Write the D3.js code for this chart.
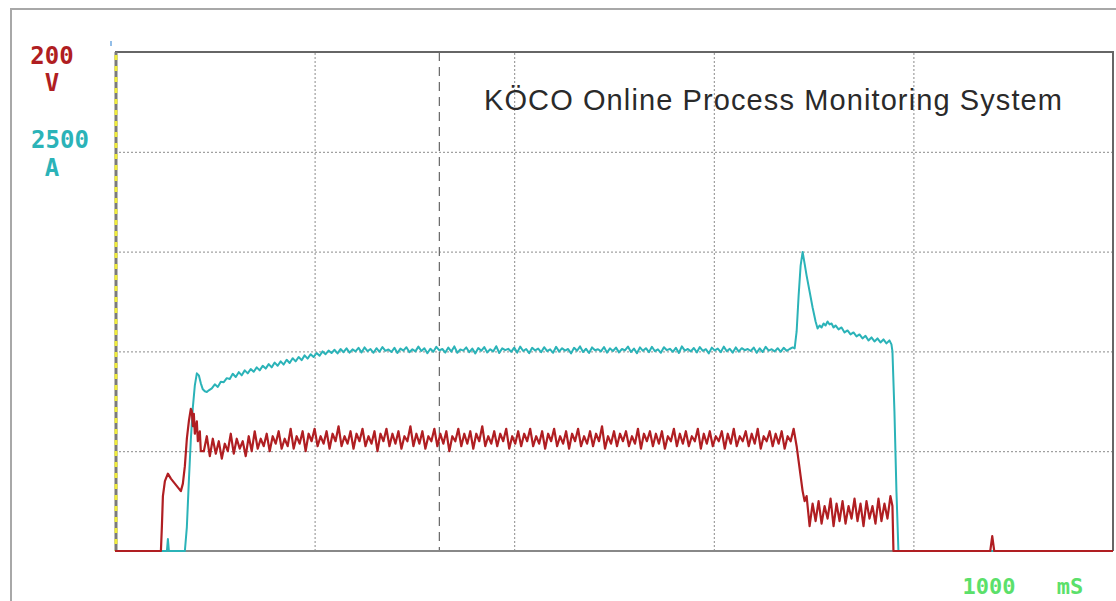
<!DOCTYPE html>
<html>
<head>
<meta charset="utf-8">
<script src="https://cdn.jsdelivr.net/npm/d3@7"></script>
<style>
  html, body { margin: 0; padding: 0; background: #fff; }
  svg { display: block; }
  .lbl { font-family: "DejaVu Sans Mono", monospace; font-weight: bold; }
</style>
</head>
<body>
<svg id="chart" width="1116" height="601"></svg>
<script>
// scope sample data, time in ms
const timeRange = [0, 1000];
const voltRange = [0, 200];
const ampRange = [0, 2500];
const gridTimes = [200, 400, 600, 800];
const gridVolts = [40, 80, 120, 160];
const markerMs = 325;

const SAMPLE_MS = 3;

// voltage (red) trace
const voltStart = [[0, 0], [46, 0], [47, 10], [48, 22], [50, 28], [53, 31], [56, 29], [60, 27],
  [64, 25], [66, 24], [68, 27], [70, 34], [72, 45], [74, 52], [76, 57], [77, 56], [78, 50],
  [79, 55], [80, 47], [82, 52], [83, 44], [85, 48], [86, 40]];
const voltSteadyStartMs = 89;
const voltSteady = [
  40, 46, 38, 45, 39, 44, 37, 43, 40, 47,
  39, 45, 41, 44, 38, 46, 40, 48, 41, 45,
  42, 47, 40, 46, 43, 48, 41, 45, 42, 49,
  41, 46, 43, 48, 40, 47, 44, 49, 42, 46,
  43, 48, 41, 47, 44, 50, 42, 46, 43, 48,
  41, 47, 44, 49, 42, 46, 43, 48, 40, 47,
  44, 49, 42, 47, 43, 48, 41, 46, 44, 50,
  42, 47, 43, 48, 41, 46, 44, 49, 42, 47,
  43, 48, 40, 46, 44, 49, 42, 47, 43, 48,
  41, 47, 44, 50, 42, 46, 43, 48, 42, 47,
  44, 49, 41, 46, 43, 48, 42, 47, 44, 49,
  42, 46, 43, 48, 41, 47, 44, 49, 42, 46,
  43, 48, 41, 47, 44, 49, 42, 46, 43, 48,
  42, 47, 44, 50, 41, 46, 43, 48, 42, 47,
  44, 48, 42, 46, 43, 49, 41, 47, 44, 48,
  42, 47, 43, 48, 41, 46, 44, 49, 42, 47,
  43, 48, 42, 46, 44, 49, 41, 47, 43, 48,
  42, 46, 44, 48, 41, 47, 43, 49, 42, 46,
  44, 48, 42, 47, 43, 49, 41, 46, 44, 48,
  42, 47, 43, 48, 41, 46, 44, 49];
const voltDrop = [[683, 42], [685, 36], [687, 30], [689, 24], [691, 20]];
const voltLowStartMs = 693;
const voltLow = [22, 10, 19, 12, 20, 11, 18, 13, 21, 10,
  19, 12, 20, 11, 18, 13, 21, 12, 19, 10,
  20, 13, 18, 11, 21, 12, 19, 13, 22];
const voltEnd = [[779, 18], [780, 0], [877, 0], [879, 6], [881, 0], [1000, 0]];

// current (cyan) trace
const ampStart = [[0, 0], [52, 0], [53, 60], [54, 0], [70, 0], [72, 120], [74, 350], [76, 560],
  [78, 720], [80, 830], [82, 890], [84, 880], [86, 840], [88, 810], [90, 800], [92, 797], [94, 805]];
const ampSteadyStartMs = 97;
const ampSteady = [
  815, 835, 822, 848, 846, 866, 862, 888, 872, 896,
  880, 905, 890, 912, 898, 920, 905, 928, 914, 936,
  920, 944, 928, 950, 934, 958, 942, 966, 950, 972,
  956, 980, 964, 986, 972, 992, 978, 1000, 986, 1004,
  992, 1008, 990, 1012, 996, 1015, 994, 1010, 1000, 1018,
  995, 1020, 1001, 1012, 993, 1016, 998, 1022, 1003, 1010,
  997, 1018, 992, 1014, 1004, 1021, 996, 1011, 1000, 1024,
  1002, 1016, 991, 1013, 998, 1023, 1005, 1012, 994, 1019,
  999, 1025, 993, 1010, 1004, 1020, 996, 1014, 990, 1017,
  1003, 1022, 995, 1011, 1000, 1026, 992, 1015, 1006, 1013,
  998, 1019, 994, 1024, 1002, 1012, 991, 1018, 1005, 1014,
  996, 1021, 1001, 1010, 993, 1023, 999, 1016, 1004, 1012,
  990, 1018, 1003, 1025, 997, 1013, 992, 1020, 1006, 1011,
  1000, 1022, 994, 1015, 1002, 1019, 995, 1012, 1005, 1024,
  997, 1014, 991, 1020, 1003, 1016, 996, 1023, 1001, 1010,
  993, 1021, 1006, 1013, 998, 1018, 992, 1025, 1004, 1012,
  1000, 1017, 995, 1022, 1003, 1011, 990, 1019, 1005, 1014,
  996, 1024, 1001, 1013, 994, 1020, 999, 1016, 1006, 1012,
  1002, 1019, 993, 1015, 997, 1023, 1004, 1011, 1000, 1016,
  998, 1018, 1003, 1012, 1020];
const ampEnd = [[681, 1015], [683, 1100], [685, 1280], [687, 1430], [689, 1498], [691, 1440],
  [693, 1380], [696, 1300], [699, 1220], [702, 1150], [704, 1115], [706, 1130], [708, 1120],
  [710, 1140], [712, 1130], [714, 1150], [716, 1135], [718, 1140], [720, 1120], [722, 1130],
  [725, 1110], [728, 1120], [731, 1095], [734, 1105], [737, 1085], [740, 1095], [743, 1075],
  [746, 1085], [749, 1065], [752, 1078], [755, 1055], [758, 1070], [761, 1050], [764, 1065],
  [767, 1045], [770, 1060], [773, 1040], [776, 1055], [778, 1035], [779, 1000], [781, 700],
  [783, 300], [785, 0], [1000, 0]];

function sampled(startMs, values) {
  return values.map((v, i) => [startMs + i * SAMPLE_MS, v]);
}

const voltage = [].concat(voltStart, sampled(voltSteadyStartMs, voltSteady), voltDrop,
  sampled(voltLowStartMs, voltLow), voltEnd);
const current = [].concat(ampStart, sampled(ampSteadyStartMs, ampSteady), ampEnd);

const plot = { left: 115, right: 1113, top: 52, bottom: 551 };

const svg = d3.select('#chart');

const x = d3.scaleLinear().domain(timeRange).range([plot.left, plot.right]);
const yV = d3.scaleLinear().domain(voltRange).range([plot.bottom, plot.top]);
const yA = d3.scaleLinear().domain(ampRange).range([plot.bottom, plot.top]);

// outer frame
svg.append('rect')
  .attr('x', 11).attr('y', 9)
  .attr('width', 1120).attr('height', 600)
  .attr('fill', 'none')
  .attr('stroke', '#a8a8a8')
  .attr('stroke-width', 2);

// grid
svg.append('g')
  .attr('transform', `translate(0,${plot.bottom})`)
  .call(d3.axisBottom(x).tickValues(gridTimes).tickSize(-(plot.bottom - plot.top)).tickFormat(''))
  .call(g => g.select('.domain').remove())
  .call(g => g.selectAll('.tick line')
    .attr('stroke', '#8a8a8a')
    .attr('stroke-dasharray', '2,2'));

svg.append('g')
  .attr('transform', `translate(${plot.left},0)`)
  .call(d3.axisLeft(yV).tickValues(gridVolts).tickSize(-(plot.right - plot.left)).tickFormat(''))
  .call(g => g.select('.domain').remove())
  .call(g => g.selectAll('.tick line')
    .attr('stroke', '#8a8a8a')
    .attr('stroke-dasharray', '2,2'));

// trigger marker
svg.append('line')
  .attr('x1', x(markerMs)).attr('x2', x(markerMs))
  .attr('y1', plot.top).attr('y2', plot.bottom)
  .attr('stroke', '#666')
  .attr('stroke-width', 1.2)
  .attr('stroke-dasharray', '9,6');

// plot frame
svg.append('path')
  .attr('d', `M${plot.left},${plot.top}H${plot.right}V${plot.bottom}`)
  .attr('fill', 'none')
  .attr('stroke', '#666')
  .attr('stroke-width', 2);

svg.append('line')
  .attr('x1', plot.left).attr('x2', plot.right)
  .attr('y1', plot.bottom).attr('y2', plot.bottom)
  .attr('stroke', '#888')
  .attr('stroke-width', 2);

// left axis: yellow / grey dashes
svg.append('line')
  .attr('x1', plot.left + 1).attr('x2', plot.left + 1)
  .attr('y1', plot.top).attr('y2', plot.bottom)
  .attr('stroke', '#7a7a7a')
  .attr('stroke-width', 3);
svg.append('line')
  .attr('x1', plot.left + 1).attr('x2', plot.left + 1)
  .attr('y1', plot.top + 3).attr('y2', plot.bottom)
  .attr('stroke', '#f0ec3c')
  .attr('stroke-width', 3)
  .attr('stroke-dasharray', '5,6');

svg.append('line')
  .attr('x1', 111).attr('x2', 111)
  .attr('y1', 41).attr('y2', 46)
  .attr('stroke', '#6fa8e0')
  .attr('stroke-width', 1.5);

// traces
const lineV = d3.line().x(d => x(d[0])).y(d => yV(d[1]));
const lineA = d3.line().x(d => x(d[0])).y(d => yA(d[1]));

svg.append('path')
  .datum(current)
  .attr('d', lineA)
  .attr('fill', 'none')
  .attr('stroke', '#2bb3b8')
  .attr('stroke-width', 2)
  .attr('stroke-linejoin', 'round');

svg.append('path')
  .datum(voltage)
  .attr('d', lineV)
  .attr('fill', 'none')
  .attr('stroke', '#b01e22')
  .attr('stroke-width', 2.2)
  .attr('stroke-linejoin', 'round');

// title
svg.append('text')
  .attr('x', 484).attr('y', 110)
  .attr('font-family', 'Liberation Sans, Arial, sans-serif')
  .attr('font-size', 29)
  .attr('fill', '#2a2a2a')
  .attr('textLength', 578)
  .text('KÖCO Online Process Monitoring System');

// scale labels
const labels = [
  { text: '200', x: 52, y: 64, color: '#b01e22' },
  { text: 'V', x: 52, y: 91, color: '#b01e22' },
  { text: '2500', x: 60, y: 148, color: '#2bb3b8' },
  { text: 'A', x: 52, y: 176, color: '#2bb3b8' },
  { text: '1000', x: 989, y: 594, color: '#5be06a' },
  { text: 'mS', x: 1070, y: 594, color: '#5be06a' }
];

svg.selectAll('text.lbl')
  .data(labels)
  .join('text')
  .attr('class', 'lbl')
  .attr('x', d => d.x)
  .attr('y', d => d.y)
  .attr('text-anchor', 'middle')
  .attr('font-size', d => d.y > 580 ? 22 : 24)
  .attr('fill', d => d.color)
  .text(d => d.text);
</script>
</body>
</html>
